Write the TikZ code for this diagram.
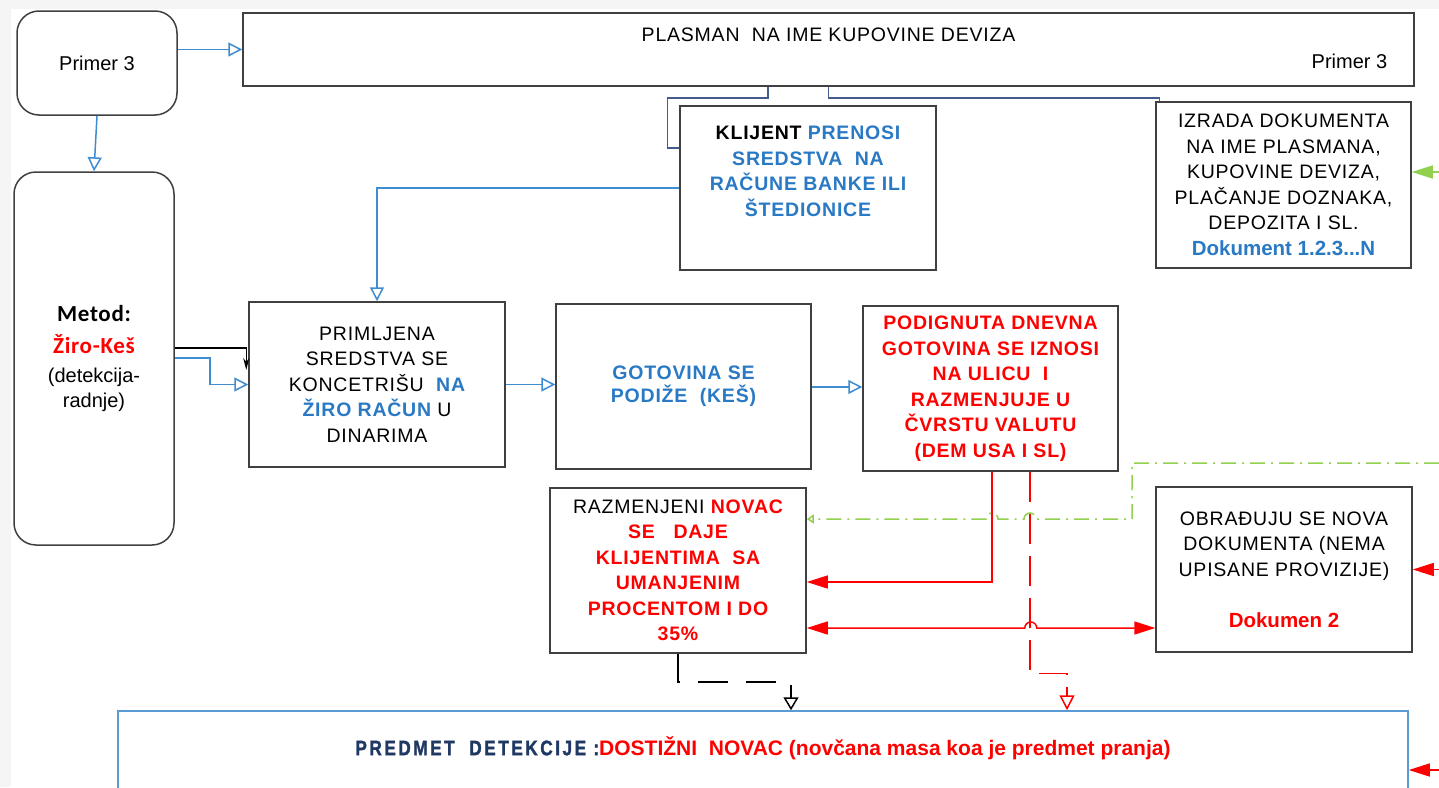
\documentclass[tikz,border=0pt]{standalone}
\usepackage{fontspec}
\setmainfont{Liberation Sans}[LetterSpace=4]
\newfontfamily\plainfont{Liberation Sans}
\newfontfamily\calfont{Carlito}[LetterSpace=3]
\newfontfamily\narrowfont{Liberation Sans}[FakeStretch=0.82,LetterSpace=12,FakeBold=1.5]
\usepackage{tikz}
\usetikzlibrary{arrows.meta,calc}
\definecolor{bggray}{RGB}{245,245,245}
\definecolor{boxgray}{RGB}{64,64,64}
\definecolor{textblue}{RGB}{41,121,196}
\definecolor{navytext}{RGB}{31,56,100}
\definecolor{lineblue}{RGB}{62,140,210}
\definecolor{navyline}{RGB}{68,90,140}
\definecolor{predblue}{RGB}{91,155,213}
\definecolor{zelena}{RGB}{146,208,80}

\begin{document}
\begin{tikzpicture}[x=1pt,y=1pt,yscale=-1,
  blok/.style 2 args={draw=boxgray,line width=1.5pt,minimum width=#1,minimum height=#2,inner sep=0pt,align=center,font=\fontsize{19.5}{25.5}\selectfont},
  obli/.style 2 args={blok={#1}{#2},rounded corners=22pt},
  plavo/.style={draw=lineblue,line width=1.5pt,-{Triangle[open,length=14pt,width=14pt]}},
  crveno/.style={draw=red,line width=1.5pt},
  zeleno/.style={draw=zelena,line width=1.5pt},
  puna/.style={-{Triangle[length=21pt,width=13pt]}}]
\useasboundingbox (0,0) rectangle (1439,787);
\fill[bggray] (0,0) rectangle (1439,787);
\fill[white] (11,9) rectangle (1439,787);
\clip (0,0) rectangle (1439,787);

% Boxes
\node[obli={160pt}{104pt}] (primer) at (97,63) {\plainfont\fontsize{20}{24}\selectfont Primer 3};
\node[blok={1171pt}{73pt}] (plasman) at (828.5,49.5) {};
\node[font=\fontsize{19.5}{24}\selectfont] (plasmannaslov) at ([yshift=-14.5pt]plasman.center) {PLASMAN\ \ NA IME KUPOVINE DEVIZA};
\node[anchor=east,font=\plainfont\fontsize{20}{24}\selectfont] (plasmanprimer) at ([xshift=-24pt,yshift=11.5pt]plasman.east) {Primer 3};
\node[obli={160pt}{373pt}] (metod) at (94,358.5) {{\calfont\bfseries\fontsize{23}{28}\selectfont Metod:}\\[7pt]{\calfont\bfseries\fontsize{23}{28}\selectfont\color{red}Žiro-Keš}\\[3pt]{\plainfont\fontsize{20}{25.5}\selectfont(detekcija-}\\{\plainfont\fontsize{20}{25.5}\selectfont radnje)}};
\node[blok={256pt}{164pt},font=\fontsize{19.5}{25.5}\selectfont\bfseries] (klijent) at (808,188) {KLIJENT\ {\color{textblue}PRENOSI}\\{\color{textblue}SREDSTVA\ \ NA}\\{\color{textblue}RAČUNE BANKE ILI}\\{\color{textblue}ŠTEDIONICE}\\\strut};
\node[blok={255pt}{166pt}] (izrada) at (1283.5,185) {IZRADA DOKUMENTA\\NA IME PLASMANA,\\KUPOVINE DEVIZA,\\PLAČANJE DOZNAKA,\\DEPOZITA I SL.\\{\plainfont\bfseries\fontsize{20.5}{25.5}\selectfont\color{textblue}Dokument 1.2.3...N}};
\node[blok={256pt}{165pt}] (primljena) at (377,384.5) {PRIMLJENA\\SREDSTVA SE\\KONCETRIŠU\ \ {\bfseries\color{textblue}NA}\\{\bfseries\color{textblue}ŽIRO RAČUN} U\\DINARIMA};
\node[blok={255pt}{165pt},text=textblue,font=\fontsize{19.5}{23}\selectfont\bfseries] (gotovina) at (683.5,386.5) {GOTOVINA SE\\PODIŽE\ \ (KEŠ)};
\node[blok={255pt}{165pt},text=red,font=\fontsize{19.5}{25.5}\selectfont\bfseries] (podig) at (990.5,388.5) {PODIGNUTA DNEVNA\\GOTOVINA SE IZNOSI\\NA ULICU\ \ I\\RAZMENJUJE U\\ČVRSTU VALUTU\\(DEM USA I SL)};
\node[blok={256pt}{165pt},text=red,font=\fontsize{19.5}{25.5}\selectfont\bfseries] (razm) at (678,570.5) {{\mdseries\color{black}RAZMENJENI} NOVAC\\SE\ \ \ DAJE\\KLIJENTIMA\ \ SA\\UMANJENIM\\PROCENTOM I DO\\35\%};
\node[blok={256pt}{165pt}] (obradj) at (1284,569.5) {OBRAĐUJU SE NOVA\\DOKUMENTA (NEMA\\UPISANE PROVIZIJE)\\\strut\\{\plainfont\bfseries\fontsize{20.5}{25.5}\selectfont\color{red}Dokumen 2}};
\node[draw=predblue,line width=1.5pt,minimum width=1290pt,minimum height=98pt,inner sep=0pt] (predmet) at (763,760) {};
\node[font=\bfseries\fontsize{21}{25}\selectfont] (predmettekst) at ([yshift=-12pt]predmet.center) {{\narrowfont\bfseries\color{navytext}PREDMET\ \ DETEKCIJE :}{\plainfont\bfseries\color{red}DOSTIŽNI\ \ NOVAC (novčana masa koa je predmet pranja)}};

% Connectors
\draw[plavo] (primer.east |- plasman.west) -- (plasman.west);
\draw[plavo] (primer.south) -- (metod.north);
\draw[navyline,line width=1.5pt] ([xshift=-60.5pt]plasman.south) -- ++(0,11) -| ([xshift=-12pt,yshift=-40pt]klijent.west) -- ([yshift=-40pt]klijent.west);
\draw[navyline,line width=1.5pt] (plasman.south) -- ++(0,11) -| ([xshift=4pt]izrada.north west);
\draw[plavo] (klijent.west) -| (primljena.north);
\draw[black,line width=1.5pt,-{Stealth[length=12pt,width=6pt]}] ([yshift=-10.5pt]metod.east) -| ([xshift=-2pt,yshift=-14.5pt]primljena.west);
\draw[plavo] ([yshift=-0.5pt]metod.east) -- ++(35,0) |- (primljena.west);
\draw[plavo] (primljena.east) -- (primljena.east -| gotovina.west);
\draw[plavo] ([yshift=0.5pt]gotovina.east) -- ([yshift=0.5pt]gotovina.east -| podig.west);

\draw[crveno,puna] ([xshift=1.5pt]podig.south) |- ([yshift=11.5pt]razm.east);
\draw[crveno,dash pattern=on 30pt off 12pt,-{Triangle[open,length=15pt,width=15pt]}] ([xshift=39.5pt]podig.south) |- ([xshift=304pt,yshift=-37pt]predmet.north) -- ([xshift=304pt]predmet.north);
\draw[crveno,{Triangle[length=21pt,width=13pt]}-{Triangle[length=21pt,width=13pt]}] ([yshift=57.5pt]razm.east) -- ++(218,0) arc(180:360:6) -- ([yshift=58.5pt]obradj.west);
\draw[black,line width=1.5pt,dash pattern=on 30pt off 18pt,-{Triangle[open,length=13pt,width=15pt]}] (razm.south) -- ++(0,28) -| ([xshift=28pt]predmet.north);

\coordinate (zelenokraj) at (1439,463);
\draw[zeleno,dash pattern=on 15pt off 6pt on 2pt off 6pt,-{Triangle[open,length=7pt,width=9pt]}] (zelenokraj) -- ++(-307,0) -- ++(0,56) -- ++(-96,0) arc(0:-180:6) -- ++(-26,0) arc(0:-180:6) -- ([yshift=-51.5pt]razm.east);
\coordinate (zelenoizrada) at (1439,172);
\draw[zeleno,puna] (zelenoizrada) -- (zelenoizrada -| izrada.east);
\coordinate (crvenoobradj) at (1439,569.5);
\draw[crveno,puna] (crvenoobradj) -- (obradj.east);
\coordinate (crvenopredmet) at (1439,770);
\draw[crveno,puna] (crvenopredmet) -- (crvenopredmet -| predmet.east);

\end{tikzpicture}
\end{document}
